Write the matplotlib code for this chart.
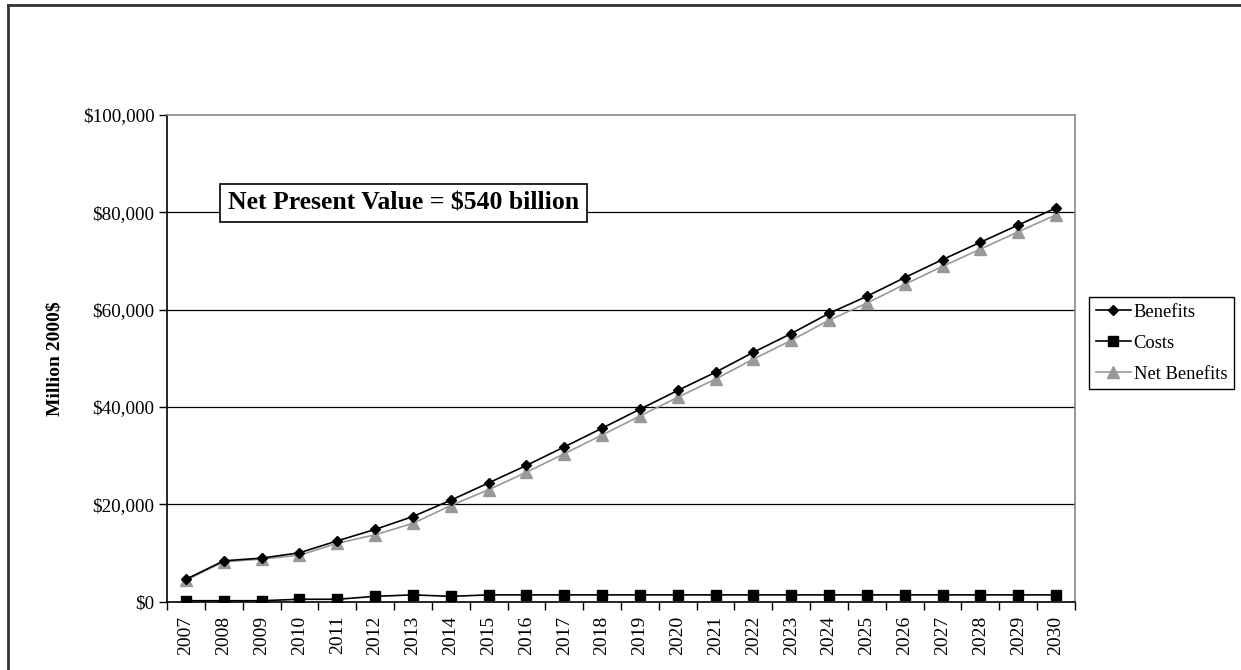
import numpy as np
import matplotlib
matplotlib.use('Agg')
import matplotlib.pyplot as plt
from matplotlib.lines import Line2D
from matplotlib.ticker import FuncFormatter, FixedLocator

plt.rcParams['font.family'] = ['Liberation Serif', 'DejaVu Serif']

years = list(range(2007, 2031))
benefits = [4600, 8400, 8950, 10050, 12500, 14850, 17500, 20850, 24400, 28000,
            31800, 35650, 39550, 43400, 47150, 51250, 55100, 59250, 62750, 66600,
            70300, 73850, 77400, 80900]
costs = [200, 200, 200, 500, 500, 1100, 1400, 1100, 1400, 1400,
         1400, 1400, 1400, 1400, 1400, 1400, 1400, 1400, 1400, 1400,
         1400, 1400, 1400, 1400]
net_benefits = [4400, 8200, 8750, 9550, 12000, 13750, 16100, 19750, 23000, 26600,
                30400, 34250, 38150, 42000, 45750, 49850, 53700, 57850, 61350, 65200,
                68900, 72450, 76000, 79500]
yticks = [0, 20000, 40000, 60000, 80000, 100000]

fig = plt.figure(figsize=(12.41, 6.70), dpi=100)
ax = fig.add_axes([167/1241, 1-601.7/670, (1075-167)/1241, (601.7-115)/670])

x = np.arange(len(years))
ax.plot(x, benefits, color='black', lw=1.2, marker='D', ms=5.5, mfc='black', mec='black',
        label='Benefits', zorder=4)
ax.plot(x, costs, color='black', lw=1.2, marker='s', ms=7.5, mfc='black', mec='black',
        label='Costs', zorder=4)
ax.plot(x, net_benefits, color='#999999', lw=1.2, marker='^', ms=8, mfc='#999999', mec='#999999',
        label='Net Benefits', zorder=3)

ax.set_xlim(-0.5, len(years) - 0.5)
ax.set_ylim(0, 100000)
ax.set_yticks(yticks)
ax.yaxis.set_major_formatter(FuncFormatter(lambda v, p: '${:,.0f}'.format(v)))
for v in yticks[1:-1]:
    ax.axhline(v, color='black', lw=0.9, zorder=1)

ax.xaxis.set_major_locator(FixedLocator(np.arange(-0.5, len(years), 1.0)))
ax.xaxis.set_major_formatter(FuncFormatter(lambda v, p: ''))
ax.set_xticks(x, minor=True)
ax.set_xticklabels([str(y) for y in years], minor=True, rotation=90, fontsize=14)
ax.tick_params(axis='x', which='minor', length=0, pad=10)
ax.tick_params(axis='x', which='major', length=6, width=1, direction='out')
ax.tick_params(axis='y', length=6, width=1, direction='out', labelsize=13.7, pad=3)

for s in ['top', 'right']:
    ax.spines[s].set_color('#888888')
    ax.spines[s].set_linewidth(1.2)
for s in ['left', 'bottom']:
    ax.spines[s].set_color('black')
    ax.spines[s].set_linewidth(1.2)

ax.set_ylabel('Million 2000$', fontsize=14, fontweight='bold')
ax.yaxis.set_label_coords(-0.114, 0.5)

ax.text(0.2605, 0.819, 'Net Present Value = $540 billion', transform=ax.transAxes,
        ha='center', va='center', fontsize=18.5, fontweight='bold', zorder=6,
        bbox=dict(boxstyle='square,pad=0.3', fc='white', ec='black', lw=1.2))

leg = fig.legend(loc='upper left', bbox_to_anchor=(1089/1241, 1-297/670), fontsize=13.4,
                 frameon=True, fancybox=False, edgecolor='black', framealpha=1,
                 handlelength=1.9, handletextpad=0.15, labelspacing=0.75, borderpad=0.35,
                 borderaxespad=0)
leg.get_frame().set_linewidth(1.0)

# outer chart frame
fig.add_artist(Line2D([8/1241, 8/1241], [0, 1-5/670], transform=fig.transFigure,
                      color='#333333', lw=2))
fig.add_artist(Line2D([8/1241, 1], [1-5/670, 1-5/670], transform=fig.transFigure,
                      color='#333333', lw=2))

plt.savefig('out.png', dpi=100)
plt.close()
